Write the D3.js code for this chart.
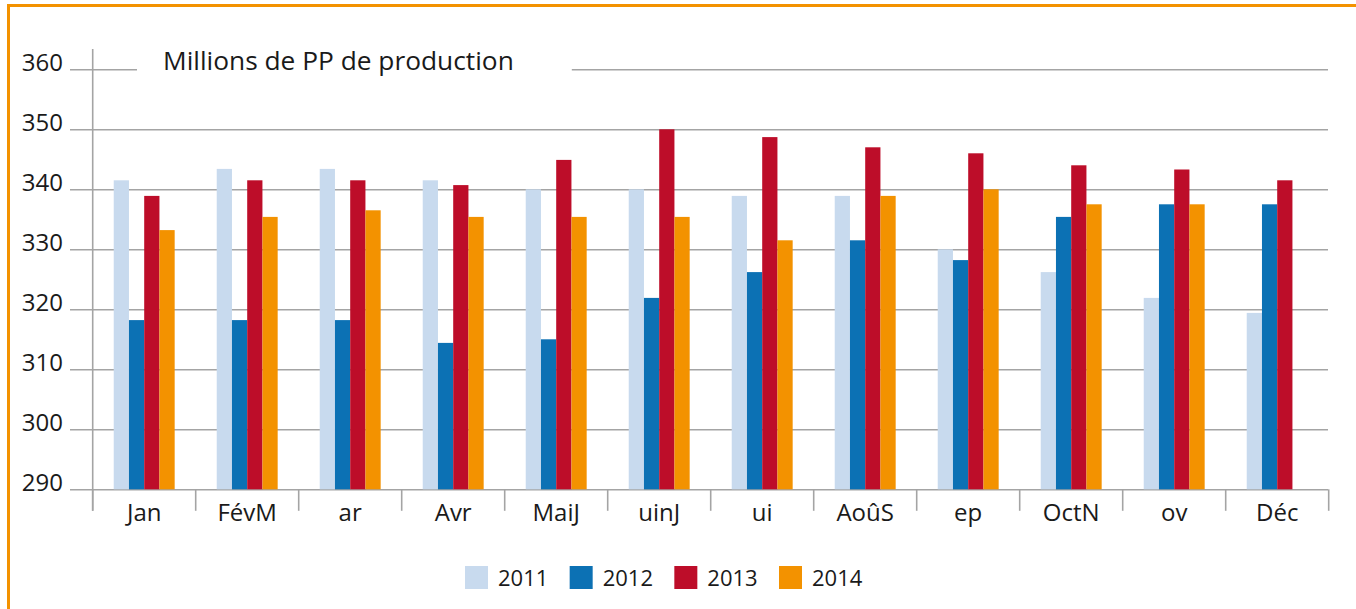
<!DOCTYPE html>
<html>
<head>
<meta charset="utf-8">
<script src="https://cdn.jsdelivr.net/npm/d3@7"></script>
<style>
  body { margin: 0; background: #fff; }
  svg { display: block; }
  text { font-family: "Open Sans", "Noto Sans", sans-serif; fill: #1a1a1a; }
</style>
</head>
<body>
<div id="chart"></div>
<script>
var months = ["Jan", "FévM", "ar", "Avr", "MaiJ", "uinJ", "ui", "AoûS", "ep", "OctN", "ov", "Déc"];
var years = ["2011", "2012", "2013", "2014"];
var v2011 = [341.5, 343.4, 343.4, 341.5, 340.0, 340.0, 338.9, 338.9, 330.0, 326.2, 321.9, 319.4];
var v2012 = [318.2, 318.2, 318.2, 314.4, 315.0, 321.9, 326.2, 331.5, 328.2, 335.4, 337.5, 337.5];
var v2013 = [338.9, 341.5, 341.5, 340.7, 344.9, 350.0, 348.7, 347.0, 346.0, 344.0, 343.3, 341.5];
var v2014 = [333.2, 335.4, 336.5, 335.4, 335.4, 335.4, 331.5, 338.9, 340.0, 337.5, 337.5, null];
var yTicks = [290, 300, 310, 320, 330, 340, 350, 360];
var colors = ["#c8daee", "#0c71b4", "#bd0d29", "#f39200"];
var title = "Millions de PP de production";

var series = [v2011, v2012, v2013, v2014];
var W = 1356, H = 609;
var gridLeft = 70, gridRight = 1328;

var svg = d3.select("#chart").append("svg").attr("width", W).attr("height", H);

// orange frame (top + left only)
svg.append("path")
  .attr("d", "M8.5,609 L8.5,5.5 L1356,5.5")
  .attr("fill", "none").attr("stroke", "#f39200").attr("stroke-width", 3);

var x0 = d3.scaleBand().domain(months).range([92.7, 1328.7]).padding(0);
var x1 = d3.scaleBand().domain(years).range([0, x0.bandwidth()]).paddingInner(0).paddingOuter(1.38);
var y = d3.scaleLinear().domain([290, 360]).range([489.3, 69.3]);

// y axis with gridlines
var yAxis = d3.axisLeft(y).tickValues(yTicks).tickSize(-(gridRight - gridLeft)).tickPadding(7);
var gy = svg.append("g").attr("transform", "translate(" + gridLeft + ",0)").call(yAxis);
gy.select(".domain").remove();
gy.selectAll(".tick line").attr("stroke", "#a4a4a4").attr("stroke-width", 1.6);
gy.selectAll(".tick text").attr("dy", "0.03em").style("font-size", "24px")
  .attr("fill", "#1a1a1a");
gy.attr("font-family", null);

// title, with a white gap in the 360 gridline
var gap = svg.append("rect").attr("fill", "#fff");
var t = svg.append("text").attr("x", 163).attr("y", y(360) + 0.5)
  .style("font-size", "26.3px").text(title);
var tw = t.node().getComputedTextLength();
gap.attr("x", 137).attr("y", y(360) - 3).attr("width", 163 - 137 + tw + 58).attr("height", 6);

// vertical axis line
svg.append("line")
  .attr("x1", x0.range()[0]).attr("x2", x0.range()[0])
  .attr("y1", 49).attr("y2", y(290) + 21.5)
  .attr("stroke", "#a4a4a4").attr("stroke-width", 1.6);

// category separators
var bounds = months.map(function(m) { return x0(m); }).concat([x0.range()[1]]);
svg.append("g").selectAll("line").data(bounds).join("line")
  .attr("x1", function(d) { return d; }).attr("x2", function(d) { return d; })
  .attr("y1", y(290)).attr("y2", y(290) + 21.5)
  .attr("stroke", "#a4a4a4").attr("stroke-width", 1.6);

// bars
var groups = svg.append("g").selectAll("g").data(months).join("g")
  .attr("transform", function(m) { return "translate(" + x0(m) + ",0)"; });
groups.selectAll("rect")
  .data(function(m, i) {
    return years.map(function(yr, j) { return { year: yr, value: series[j][i], color: colors[j] }; })
      .filter(function(d) { return d.value != null; });
  })
  .join("rect")
  .attr("x", function(d) { return x1(d.year); })
  .attr("width", x1.bandwidth())
  .attr("y", function(d) { return y(d.value); })
  .attr("height", function(d) { return y(290) - y(d.value); })
  .attr("fill", function(d) { return d.color; });

// month labels
svg.append("g").selectAll("text").data(months).join("text")
  .attr("x", function(m) { return x0(m) + x0.bandwidth() / 2; })
  .attr("y", 521)
  .attr("text-anchor", "middle")
  .style("font-size", "24px")
  .text(function(m) { return m; });

// legend
var lx = d3.scalePoint().domain(years).range([465, 779]);
var lg = svg.append("g").selectAll("g").data(years).join("g")
  .attr("transform", function(d) { return "translate(" + lx(d) + ",566)"; });
lg.append("rect").attr("width", 23).attr("height", 23)
  .attr("fill", function(d, i) { return colors[i]; });
lg.append("text").attr("x", 33).attr("y", 19.5)
  .style("font-size", "22px")
  .text(function(d) { return d; });
</script>
</body>
</html>
